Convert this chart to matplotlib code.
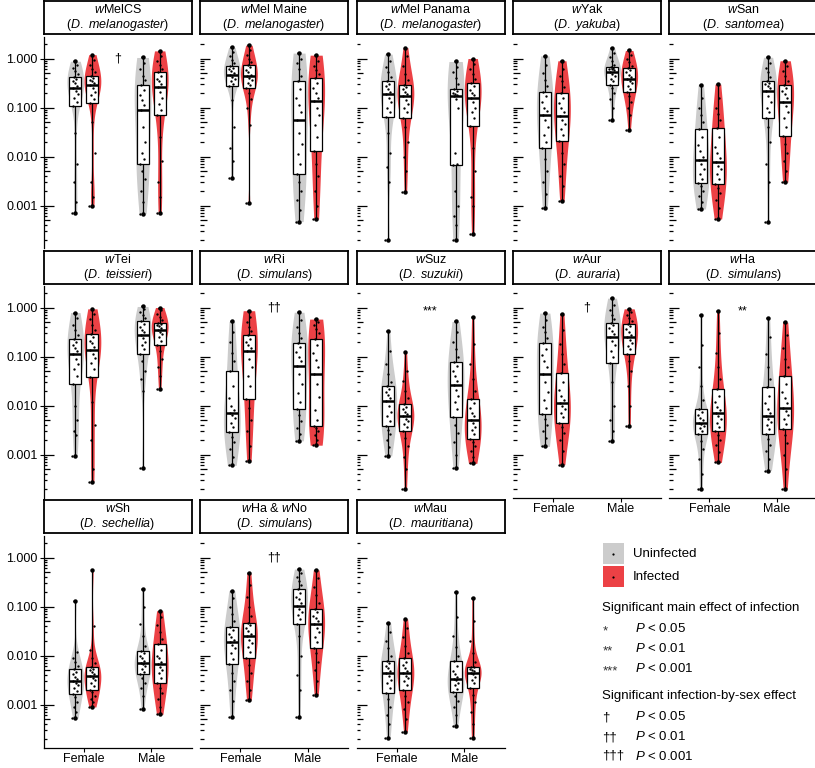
import re
import numpy as np
import matplotlib
matplotlib.use('Agg')
import matplotlib.pyplot as plt
from matplotlib.patches import Rectangle
from matplotlib.lines import Line2D
from matplotlib.ticker import NullLocator
from matplotlib.transforms import blended_transform_factory

plt.rcParams['font.family'] = ['Liberation Sans', 'DejaVu Sans']
plt.rcParams['mathtext.fontset'] = 'custom'
plt.rcParams['mathtext.rm'] = 'Liberation Sans'
plt.rcParams['mathtext.it'] = 'Liberation Sans:italic'

SEXES = ['Female', 'Male']
GROUPS = ['Uninfected', 'Infected']
COLORS = {'Uninfected': '#cccccc', 'Infected': '#ec4145'}

# each panel: (female uninfected, female infected, male uninfected, male infected)
wmelcs = (
  [0.0007, 0.0012, 0.003, 0.007, 0.03, 0.107, 0.13, 0.16, 0.19, 0.22, 0.255, 0.28, 0.31, 0.34, 0.38, 0.42, 0.48, 0.55, 0.63, 0.74, 0.88],
  [0.00098, 0.0015, 0.003, 0.012, 0.05, 0.126, 0.15, 0.18, 0.21, 0.25, 0.285, 0.31, 0.34, 0.37, 0.40, 0.44, 0.52, 0.62, 0.75, 0.95, 1.2],
  [0.00068, 0.0012, 0.002, 0.0035, 0.005, 0.0071, 0.009, 0.012, 0.02, 0.04, 0.089, 0.11, 0.14, 0.18, 0.23, 0.285, 0.36, 0.45, 0.6, 0.8, 1.05],
  [0.0007, 0.0015, 0.003, 0.008, 0.025, 0.069, 0.09, 0.12, 0.16, 0.21, 0.26, 0.3, 0.34, 0.39, 0.45, 0.53, 0.62, 0.75, 0.9, 1.1, 1.43],
)
wmel_maine = (
  [0.0037, 0.008, 0.015, 0.04, 0.14, 0.27, 0.3, 0.34, 0.38, 0.42, 0.46, 0.5, 0.55, 0.6, 0.65, 0.71, 0.8, 0.92, 1.1, 1.35, 1.68],
  [0.00114, 0.045, 0.1, 0.15, 0.2, 0.255, 0.29, 0.32, 0.36, 0.4, 0.43, 0.47, 0.52, 0.58, 0.66, 0.74, 0.85, 1.0, 1.2, 1.5, 1.87],
  [0.00047, 0.0008, 0.0013, 0.002, 0.003, 0.0045, 0.007, 0.011, 0.018, 0.03, 0.056, 0.08, 0.11, 0.16, 0.24, 0.35, 0.45, 0.6, 0.8, 1.0, 1.29],
  [0.00053, 0.001, 0.002, 0.004, 0.007, 0.0129, 0.025, 0.045, 0.07, 0.1, 0.136, 0.16, 0.2, 0.25, 0.32, 0.4, 0.48, 0.58, 0.72, 0.9, 1.17],
)
wmel_panama = (
  [0.0002, 0.003, 0.006, 0.012, 0.03, 0.065, 0.08, 0.1, 0.13, 0.16, 0.187, 0.21, 0.24, 0.27, 0.3, 0.34, 0.42, 0.52, 0.68, 0.9, 1.23],
  [0.0019, 0.005, 0.01, 0.02, 0.04, 0.06, 0.08, 0.1, 0.12, 0.145, 0.17, 0.19, 0.21, 0.235, 0.26, 0.29, 0.36, 0.48, 0.7, 1.1, 1.67],
  [0.0002, 0.0004, 0.0006, 0.001, 0.002, 0.0067, 0.007, 0.012, 0.1, 0.15, 0.17, 0.18, 0.19, 0.2, 0.22, 0.236, 0.3, 0.4, 0.52, 0.68, 0.87],
  [0.00026, 0.001, 0.0015, 0.005, 0.015, 0.042, 0.06, 0.08, 0.1, 0.13, 0.155, 0.18, 0.2, 0.23, 0.27, 0.31, 0.38, 0.48, 0.6, 0.78, 1.0],
)
wyak = (
  [0.0009, 0.0017, 0.003, 0.005, 0.009, 0.015, 0.02, 0.028, 0.04, 0.055, 0.071, 0.085, 0.1, 0.13, 0.17, 0.21, 0.27, 0.36, 0.5, 0.75, 1.13],
  [0.00125, 0.0025, 0.004, 0.007, 0.012, 0.021, 0.028, 0.036, 0.046, 0.056, 0.068, 0.08, 0.1, 0.125, 0.16, 0.2, 0.26, 0.34, 0.45, 0.62, 0.9],
  [0.056, 0.1, 0.15, 0.2, 0.25, 0.29, 0.34, 0.39, 0.44, 0.49, 0.54, 0.57, 0.6, 0.62, 0.64, 0.665, 0.75, 0.88, 1.05, 1.3, 1.63],
  [0.035, 0.07, 0.1, 0.13, 0.17, 0.205, 0.24, 0.27, 0.31, 0.345, 0.38, 0.42, 0.47, 0.52, 0.57, 0.63, 0.72, 0.84, 1.0, 1.2, 1.46],
)
wsan = (
  [0.00085, 0.0012, 0.0016, 0.002, 0.0025, 0.0029, 0.0035, 0.0045, 0.0055, 0.007, 0.0085, 0.01, 0.013, 0.017, 0.025, 0.036, 0.05, 0.07, 0.1, 0.16, 0.29],
  [0.00053, 0.0009, 0.0013, 0.0018, 0.0023, 0.0028, 0.0035, 0.0045, 0.0055, 0.0065, 0.0079, 0.0095, 0.012, 0.016, 0.025, 0.039, 0.055, 0.075, 0.1, 0.16, 0.30],
  [0.00046, 0.003, 0.007, 0.02, 0.04, 0.062, 0.08, 0.1, 0.13, 0.17, 0.22, 0.25, 0.28, 0.3, 0.32, 0.35, 0.42, 0.52, 0.65, 0.82, 1.06],
  [0.003, 0.005, 0.008, 0.012, 0.018, 0.026, 0.04, 0.06, 0.08, 0.105, 0.132, 0.16, 0.19, 0.22, 0.25, 0.29, 0.35, 0.43, 0.55, 0.7, 0.9],
)
wtei = (
  [0.00095, 0.0025, 0.003, 0.005, 0.01, 0.027, 0.04, 0.055, 0.07, 0.09, 0.114, 0.13, 0.15, 0.17, 0.2, 0.23, 0.28, 0.35, 0.45, 0.6, 0.79],
  [0.00028, 0.0005, 0.002, 0.004, 0.012, 0.039, 0.055, 0.075, 0.095, 0.115, 0.137, 0.16, 0.185, 0.21, 0.25, 0.286, 0.35, 0.45, 0.57, 0.74, 0.94],
  [0.00054, 0.02, 0.035, 0.05, 0.08, 0.112, 0.14, 0.17, 0.2, 0.235, 0.27, 0.31, 0.35, 0.4, 0.46, 0.52, 0.6, 0.7, 0.8, 0.92, 1.05],
  [0.022, 0.04, 0.06, 0.09, 0.13, 0.17, 0.21, 0.25, 0.29, 0.32, 0.35, 0.38, 0.41, 0.43, 0.455, 0.48, 0.55, 0.64, 0.75, 0.87, 1.0],
)
wri = (
  [0.0006, 0.0009, 0.0013, 0.0018, 0.0023, 0.0029, 0.0036, 0.0045, 0.0055, 0.0063, 0.0071, 0.008, 0.01, 0.014, 0.025, 0.051, 0.08, 0.12, 0.2, 0.32, 0.52],
  [0.00075, 0.0015, 0.003, 0.005, 0.009, 0.0138, 0.025, 0.04, 0.06, 0.09, 0.13, 0.15, 0.17, 0.2, 0.23, 0.27, 0.33, 0.4, 0.5, 0.65, 0.86],
  [0.0019, 0.0026, 0.0035, 0.0048, 0.0065, 0.0085, 0.012, 0.018, 0.028, 0.045, 0.065, 0.08, 0.1, 0.125, 0.155, 0.19, 0.24, 0.3, 0.4, 0.56, 0.80],
  [0.00155, 0.002, 0.0025, 0.003, 0.0035, 0.0039, 0.005, 0.008, 0.015, 0.028, 0.044, 0.06, 0.085, 0.12, 0.17, 0.23, 0.3, 0.37, 0.44, 0.51, 0.58],
)
wsuz = (
  [0.00094, 0.0014, 0.002, 0.0026, 0.0032, 0.0038, 0.0048, 0.006, 0.0075, 0.01, 0.0125, 0.0145, 0.0165, 0.019, 0.0215, 0.0245, 0.03, 0.045, 0.07, 0.13, 0.33],
  [0.0002, 0.0005, 0.0009, 0.0015, 0.0022, 0.003, 0.0036, 0.0042, 0.0048, 0.0054, 0.006, 0.0067, 0.0075, 0.0085, 0.0095, 0.0107, 0.014, 0.02, 0.032, 0.05, 0.126],
  [0.00054, 0.001, 0.0018, 0.0028, 0.004, 0.0057, 0.0085, 0.012, 0.016, 0.021, 0.026, 0.032, 0.04, 0.05, 0.063, 0.079, 0.1, 0.14, 0.2, 0.32, 0.52],
  [0.00066, 0.0009, 0.0012, 0.0015, 0.0018, 0.0021, 0.0026, 0.0031, 0.0037, 0.0044, 0.0051, 0.006, 0.0072, 0.0088, 0.011, 0.0137, 0.02, 0.035, 0.07, 0.18, 0.63],
)
waur = (
  [0.00146, 0.0022, 0.003, 0.004, 0.0052, 0.0068, 0.009, 0.013, 0.019, 0.03, 0.0443, 0.06, 0.08, 0.105, 0.14, 0.187, 0.24, 0.31, 0.4, 0.55, 0.77],
  [0.00062, 0.0012, 0.002, 0.0028, 0.0036, 0.0045, 0.0058, 0.007, 0.0083, 0.0097, 0.0112, 0.013, 0.016, 0.021, 0.03, 0.047, 0.07, 0.11, 0.18, 0.35, 0.74],
  [0.0019, 0.003, 0.005, 0.01, 0.03, 0.075, 0.1, 0.13, 0.17, 0.21, 0.256, 0.29, 0.33, 0.38, 0.43, 0.48, 0.58, 0.72, 0.9, 1.15, 1.55],
  [0.0039, 0.01, 0.025, 0.05, 0.08, 0.114, 0.14, 0.165, 0.19, 0.22, 0.25, 0.28, 0.32, 0.36, 0.41, 0.46, 0.53, 0.61, 0.7, 0.81, 0.94],
)
wha = (
  [0.0002, 0.0004, 0.0008, 0.0013, 0.0019, 0.0026, 0.003, 0.0034, 0.0038, 0.0042, 0.0045, 0.005, 0.0056, 0.0064, 0.0074, 0.0085, 0.013, 0.025, 0.06, 0.17, 0.69],
  [0.00069, 0.0011, 0.0016, 0.002, 0.0025, 0.003, 0.0037, 0.0045, 0.0053, 0.0062, 0.007, 0.008, 0.0095, 0.012, 0.016, 0.022, 0.035, 0.06, 0.12, 0.3, 0.83],
  [0.00047, 0.0008, 0.0012, 0.0016, 0.0021, 0.0026, 0.0033, 0.004, 0.0047, 0.0054, 0.006, 0.007, 0.0085, 0.011, 0.016, 0.0237, 0.035, 0.06, 0.11, 0.25, 0.6],
  [0.0002, 0.0005, 0.001, 0.0017, 0.0025, 0.0033, 0.0042, 0.0053, 0.0065, 0.0077, 0.0089, 0.011, 0.014, 0.019, 0.027, 0.04, 0.06, 0.09, 0.15, 0.27, 0.5],
)
wsh = (
  [0.00053, 0.0007, 0.0009, 0.0011, 0.0014, 0.00165, 0.0019, 0.0022, 0.0025, 0.0028, 0.003, 0.0033, 0.0037, 0.0041, 0.0046, 0.0052, 0.0062, 0.0075, 0.009, 0.012, 0.13],
  [0.00089, 0.0011, 0.0013, 0.0015, 0.0018, 0.002, 0.0024, 0.0028, 0.0031, 0.0035, 0.0038, 0.0042, 0.0046, 0.005, 0.0054, 0.0058, 0.007, 0.009, 0.013, 0.04, 0.56],
  [0.0008, 0.0015, 0.0022, 0.0028, 0.0035, 0.0041, 0.0047, 0.0053, 0.006, 0.0066, 0.0072, 0.0079, 0.0088, 0.0098, 0.011, 0.0124, 0.016, 0.025, 0.045, 0.1, 0.224],
  [0.00063, 0.0009, 0.0013, 0.0017, 0.0022, 0.0028, 0.0035, 0.0043, 0.0051, 0.0058, 0.0066, 0.0075, 0.0087, 0.01, 0.013, 0.017, 0.022, 0.03, 0.042, 0.06, 0.082],
)
wha_wno = (
  [0.00055, 0.0012, 0.002, 0.003, 0.0045, 0.0066, 0.0085, 0.011, 0.014, 0.0165, 0.019, 0.021, 0.024, 0.028, 0.033, 0.038, 0.05, 0.07, 0.1, 0.15, 0.21],
  [0.00124, 0.002, 0.003, 0.0045, 0.0065, 0.0089, 0.012, 0.015, 0.018, 0.021, 0.0248, 0.028, 0.032, 0.036, 0.041, 0.047, 0.065, 0.1, 0.16, 0.28, 0.48],
  [0.00055, 0.002, 0.004, 0.01, 0.025, 0.043, 0.055, 0.066, 0.078, 0.09, 0.104, 0.12, 0.14, 0.16, 0.19, 0.224, 0.27, 0.33, 0.4, 0.48, 0.58],
  [0.0016, 0.003, 0.005, 0.0075, 0.011, 0.0145, 0.019, 0.024, 0.03, 0.037, 0.044, 0.05, 0.057, 0.065, 0.076, 0.089, 0.12, 0.17, 0.25, 0.38, 0.56],
)
wmau = (
  [0.00021, 0.0004, 0.0006, 0.0009, 0.0013, 0.0017, 0.0022, 0.0027, 0.0032, 0.0038, 0.0043, 0.0049, 0.0055, 0.0062, 0.007, 0.0078, 0.01, 0.014, 0.02, 0.03, 0.046],
  [0.00028, 0.0005, 0.0008, 0.0011, 0.0015, 0.002, 0.0025, 0.003, 0.0034, 0.0039, 0.0043, 0.0049, 0.0056, 0.0064, 0.0075, 0.0087, 0.011, 0.016, 0.024, 0.037, 0.056],
  [0.00037, 0.0006, 0.0009, 0.0012, 0.0015, 0.0018, 0.0021, 0.0025, 0.0028, 0.0031, 0.0033, 0.0037, 0.0042, 0.0049, 0.0062, 0.0078, 0.01, 0.015, 0.025, 0.06, 0.195],
  [0.00021, 0.0004, 0.0007, 0.0011, 0.0016, 0.0022, 0.0027, 0.0032, 0.0037, 0.0041, 0.0045, 0.0048, 0.0051, 0.0054, 0.0057, 0.0059, 0.0075, 0.011, 0.02, 0.05, 0.148],
)

PANELS = [
  ('wMelCS', 'D. melanogaster', wmelcs, '\u2020'),
  ('wMel Maine', 'D. melanogaster', wmel_maine, ''),
  ('wMel Panama', 'D. melanogaster', wmel_panama, ''),
  ('wYak', 'D. yakuba', wyak, ''),
  ('wSan', 'D. santomea', wsan, ''),
  ('wTei', 'D. teissieri', wtei, ''),
  ('wRi', 'D. simulans', wri, '\u2020\u2020'),
  ('wSuz', 'D. suzukii', wsuz, '***'),
  ('wAur', 'D. auraria', waur, '\u2020'),
  ('wHa', 'D. simulans', wha, '**'),
  ('wSh', 'D. sechellia', wsh, ''),
  ('wHa & wNo', 'D. simulans', wha_wno, '\u2020\u2020'),
  ('wMau', 'D. mauritiana', wmau, ''),
]

TICKS = [1e-3, 1e-2, 1e-1, 1.0]
TICK_LABELS = ['0.001', '0.010', '0.100', '1.000']

# layout in pixels
FW, FH = 815, 768
COL_X = [43.5, 200.0, 356.5, 513.0, 669.0]
PW = 148.0
ROW_TOP = [37.0, 286.0, 536.0]
PH = 211.5
STRIP_TOP = [1.0, 251.0, 500.0]
SH = 33.0
YLIM = (10 ** -3.877, 10 ** 0.439)

def fx(px):
  return px / FW

def fy(py):
  return 1 - py / FH

def violin(ax, x, vals, color, adjust=1.4):
  # kernel density on the log scale, trimmed to the data range, scaled to a fixed max width
  lv = np.log10(vals)
  n = len(lv)
  q75, q25 = np.percentile(lv, [75, 25])
  bw = adjust * 0.9 * min(lv.std(ddof=1), (q75 - q25) / 1.34) * n ** -0.2
  grid = np.linspace(lv.min(), lv.max(), 200)
  dens = np.exp(-0.5 * ((grid[:, None] - lv[None, :]) / bw) ** 2).sum(1)
  half = dens / dens.max() * 0.125
  ax.fill_betweenx(10 ** grid, x - half, x + half, color=color, lw=0, zorder=1)

def boxplot(ax, x, vals, bw=0.18):
  v = np.asarray(vals)
  q1, med, q3 = np.percentile(v, [25, 50, 75])
  ax.plot([x, x], [v.min(), v.max()], color='black', lw=0.9, zorder=2)
  ax.add_patch(Rectangle((x - bw / 2, q1), bw, q3 - q1, fc='white', ec='black', lw=0.9, zorder=3))
  ax.plot([x - bw / 2, x + bw / 2], [med, med], color='black', lw=1.8, zorder=4, solid_capstyle='butt')
  jit = ((np.arange(len(v)) * 0.618034) % 1 - 0.5) * 0.09
  ax.plot(x + jit, v, 'o', ms=1.7, mew=0, color='black', zorder=5)
  ax.plot([x, x], [v.min(), v.max()], 'o', ms=3.2, mew=0, color='black', zorder=5)

def logticks(ax):
  trans = blended_transform_factory(ax.transAxes, ax.transData)
  for k in range(-4, 1):
    for m in range(1, 10):
      v = m * 10.0 ** k
      if not (YLIM[0] <= v <= YLIM[1]):
        continue
      L = 10 if m == 1 else (6.5 if m == 5 else 3.5)
      ax.plot([0, L / PW], [v, v], transform=trans, color='black', lw=0.9,
              clip_on=False, solid_capstyle='butt')

def strip_label(name):
  return re.sub(r'\bw', r'$\\mathit{w}$', name)

fig = plt.figure(figsize=(FW / 100, FH / 100), dpi=100)

for i, (name, species, data, mark) in enumerate(PANELS):
  r, c = divmod(i, 5)
  ax = fig.add_axes([fx(COL_X[c]), fy(ROW_TOP[r] + PH), PW / FW, PH / FH])
  ax.set_yscale('log')
  ax.set_ylim(*YLIM)
  ax.set_xlim(0.4, 2.6)
  ax.yaxis.set_minor_locator(NullLocator())
  for s in ['top', 'right']:
    ax.spines[s].set_visible(False)
  ax.patch.set_alpha(0)

  for j, vals in enumerate(data):
    sex, grp = divmod(j, 2)
    x = sex + 1 + (-0.127 if grp == 0 else 0.127)
    violin(ax, x, vals, COLORS[GROUPS[grp]])
    boxplot(ax, x, vals)

  logticks(ax)

  if c == 0:
    ax.set_yticks(TICKS)
    ax.set_yticklabels(TICK_LABELS)
    ax.tick_params(axis='y', direction='out', length=2.8, width=0.8, labelsize=9, pad=1.5)
    ax.spines['left'].set_linewidth(0.9)
  else:
    ax.spines['left'].set_visible(False)
    ax.tick_params(axis='y', left=False, labelleft=False)

  if i + 5 >= len(PANELS):
    ax.set_xticks([1, 2])
    ax.set_xticklabels(SEXES)
    ax.tick_params(axis='x', length=2.8, width=0.8, labelsize=9, pad=1.5)
    ax.spines['bottom'].set_linewidth(0.9)
  else:
    ax.spines['bottom'].set_visible(False)
    ax.tick_params(axis='x', bottom=False, labelbottom=False)

  if mark:
    off = -2.5 if mark.startswith('*') else 0
    ax.annotate(mark, (1.5, 1.0), xytext=(0, off), textcoords='offset points',
                ha='center', va='center', fontsize=9)

  sx = fig.add_axes([fx(COL_X[c]), fy(STRIP_TOP[r] + SH), PW / FW, SH / FH])
  sx.set_xticks([])
  sx.set_yticks([])
  for s in sx.spines.values():
    s.set_linewidth(1.3)
  sx.text(0.5, 0.74, strip_label(name), ha='center', va='center', fontsize=9, transform=sx.transAxes)
  sx.text(0.5, 0.26, '($\\mathit{' + species.replace(' ', '\\ ') + '}$)', ha='center', va='center',
          fontsize=9, transform=sx.transAxes)

# legend
for k, (grp, top) in enumerate(zip(GROUPS, [543, 566])):
  fig.add_artist(Rectangle((fx(602.5), fy(top + 21)), 21 / FW, 21 / FH, transform=fig.transFigure,
                           fc=COLORS[grp], ec='none'))
  fig.add_artist(Line2D([fx(613)], [fy(top + 10.5)], marker='o', ms=1.6, mew=0, color='black',
                        transform=fig.transFigure))
  fig.text(fx(632.5), fy(top + 11), grp, va='center', fontsize=9.5)

fig.text(fx(602.5), fy(608), 'Significant main effect of infection', va='center', fontsize=9.5)
for sym, txt, y in zip(['*', '**', '***'], ['0.05', '0.01', '0.001'], [629, 649, 669]):
  fig.text(fx(602.5), fy(y + 2), sym, va='center', fontsize=9.5, color='#333333')
  fig.text(fx(635), fy(y), '$\\mathit{P}$ < ' + txt, va='center', fontsize=9.5)

fig.text(fx(602.5), fy(696), 'Significant infection-by-sex effect', va='center', fontsize=9.5)
for sym, txt, y in zip(['\u2020', '\u2020\u2020', '\u2020\u2020\u2020'], ['0.05', '0.01', '0.001'], [717, 737, 756]):
  fig.text(fx(602.5), fy(y), sym, va='center', fontsize=9.5)
  fig.text(fx(635), fy(y), '$\\mathit{P}$ < ' + txt, va='center', fontsize=9.5)

fig.savefig('out.png', dpi=100)
